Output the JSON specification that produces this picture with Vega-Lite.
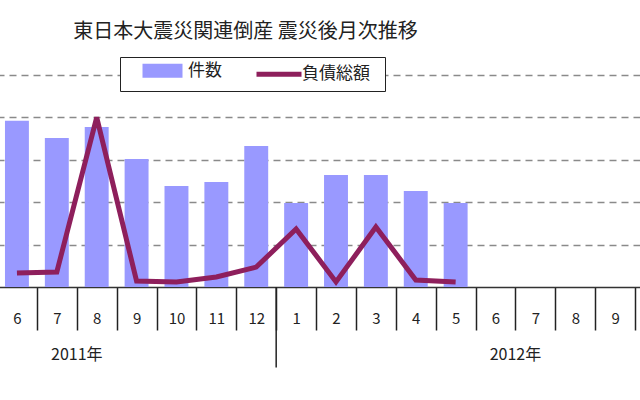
{
  "$schema": "https://vega.github.io/schema/vega-lite/v6.json",
  "autosize": {"type": "none"},
  "padding": {"left": -3, "top": 75, "right": -35, "bottom": 113},
  "width": 678,
  "height": 212,
  "title": {
    "text": "東日本大震災関連倒産 震災後月次推移",
    "anchor": "start",
    "dx": 77,
    "offset": 15,
    "fontSize": 20,
    "font": "Noto Sans CJK JP",
    "fontWeight": "normal",
    "color": "#222"
  },
  "config": {"view": {"stroke": null}},
  "datasets": {
    "monthly": [
      {"cat": "2011-6", "count": 78.4, "debt": 66},
      {"cat": "2011-7", "count": 70.3, "debt": 71},
      {"cat": "2011-8", "count": 75.5, "debt": 800},
      {"cat": "2011-9", "count": 60.4, "debt": 28},
      {"cat": "2011-10", "count": 47.6, "debt": 24},
      {"cat": "2011-11", "count": 49.5, "debt": 47},
      {"cat": "2011-12", "count": 66.5, "debt": 94},
      {"cat": "2012-1", "count": 39.6, "debt": 274},
      {"cat": "2012-2", "count": 52.8, "debt": 24},
      {"cat": "2012-3", "count": 52.8, "debt": 283},
      {"cat": "2012-4", "count": 45.3, "debt": 33},
      {"cat": "2012-5", "count": 39.6, "debt": 24}
    ],
    "years": [
      {"cat": "2011-8", "label": "2011年"},
      {"cat": "2012-7", "label": "2012年"}
    ],
    "divider": [
      {"cat": "2012-1"}
    ]
  },
  "resolve": {"scale": {"y": "independent"}},
  "layer": [
    {
      "data": {"name": "monthly"},
      "transform": [{"calculate": "'件数'", "as": "series"}],
      "mark": {"type": "bar", "width": {"band": 0.6}},
      "encoding": {
        "x": {
          "field": "cat",
          "type": "ordinal",
          "sort": null,
          "scale": {
            "domain": ["2011-6","2011-7","2011-8","2011-9","2011-10","2011-11","2011-12","2012-1","2012-2","2012-3","2012-4","2012-5","2012-6","2012-7","2012-8","2012-9","2012-10"],
            "padding": 0
          },
          "axis": {
            "title": null,
            "tickBand": "extent",
            "tickSize": 43,
            "tickColor": "#222",
            "tickWidth": 1.5,
            "domainColor": "#333",
            "domainWidth": 1.5,
            "labelAngle": 0,
            "labelFontSize": 15,
            "labelFont": "Noto Sans CJK JP",
            "labelColor": "#222",
            "labelPadding": -12,
            "labelBaseline": "middle",
            "labelExpr": "datum.value == '2012-10' ? '' : split(datum.value, '-')[1]",
            "grid": false
          }
        },
        "y": {
          "field": "count",
          "type": "quantitative",
          "scale": {"domain": [0, 100], "nice": false},
          "axis": {
            "values": [20, 40, 60, 80, 100],
            "grid": true,
            "gridDash": [7, 5],
            "gridColor": "#8a8a8a",
            "gridWidth": 1.5,
            "labels": false,
            "ticks": false,
            "domain": false,
            "title": null
          }
        },
        "color": {
          "field": "series",
          "type": "nominal",
          "scale": {"domain": ["件数", "負債総額"], "range": ["#9999ff", "#8e1f5c"]},
          "legend": {
            "orient": "none",
            "legendX": 123,
            "legendY": -18,
            "direction": "horizontal",
            "title": null,
            "fillColor": "white",
            "strokeColor": "#222",
            "padding": 3,
            "labelFontSize": 17,
            "labelFont": "Noto Sans CJK JP",
            "labelColor": "#222",
            "labelOffset": 44,
            "labelExpr": "datum.label == '負債総額' ? datum.label + '\u2800' : datum.label",
            "symbolSize": 256,
            "symbolStrokeWidth": 0,
            "columnPadding": 15,
            "encode": {
              "symbols": {
                "update": {
                  "shape": {"signal": "datum.value === '件数' ? 'M1.125,-0.875H6.125V0.875H1.125Z' : 'M1.125,0H6.75'"},
                  "fill": {"signal": "datum.value === '件数' ? '#9999ff' : 'transparent'"},
                  "stroke": {"signal": "datum.value === '件数' ? 'transparent' : '#8e1f5c'"},
                  "strokeWidth": {"value": 5},
                  "opacity": {"value": 1}
                }
              }
            }
          }
        }
      }
    },
    {
      "data": {"name": "monthly"},
      "mark": {"type": "line", "color": "#8e1f5c", "strokeWidth": 5, "strokeJoin": "miter"},
      "encoding": {
        "x": {"field": "cat", "type": "ordinal", "sort": null},
        "y": {
          "field": "debt",
          "type": "quantitative",
          "scale": {"domain": [0, 1000], "nice": false},
          "axis": null
        }
      }
    },
    {
      "data": {"name": "divider"},
      "mark": {"type": "rule", "color": "#222", "strokeWidth": 1.5},
      "encoding": {
        "x": {"field": "cat", "type": "ordinal", "bandPosition": 0},
        "y": {"datum": 0, "type": "quantitative", "scale": {"domain": [0, 100], "nice": false}, "axis": null},
        "y2": {"datum": -38}
      }
    },
    {
      "data": {"name": "years"},
      "mark": {"type": "text", "fontSize": 16, "font": "Noto Sans CJK JP", "color": "#222", "baseline": "middle"},
      "encoding": {
        "x": {"field": "cat", "type": "ordinal", "bandPosition": 0},
        "y": {"datum": -32, "type": "quantitative", "scale": {"domain": [0, 100], "nice": false}, "axis": null},
        "text": {"field": "label"}
      }
    }
  ]
}
